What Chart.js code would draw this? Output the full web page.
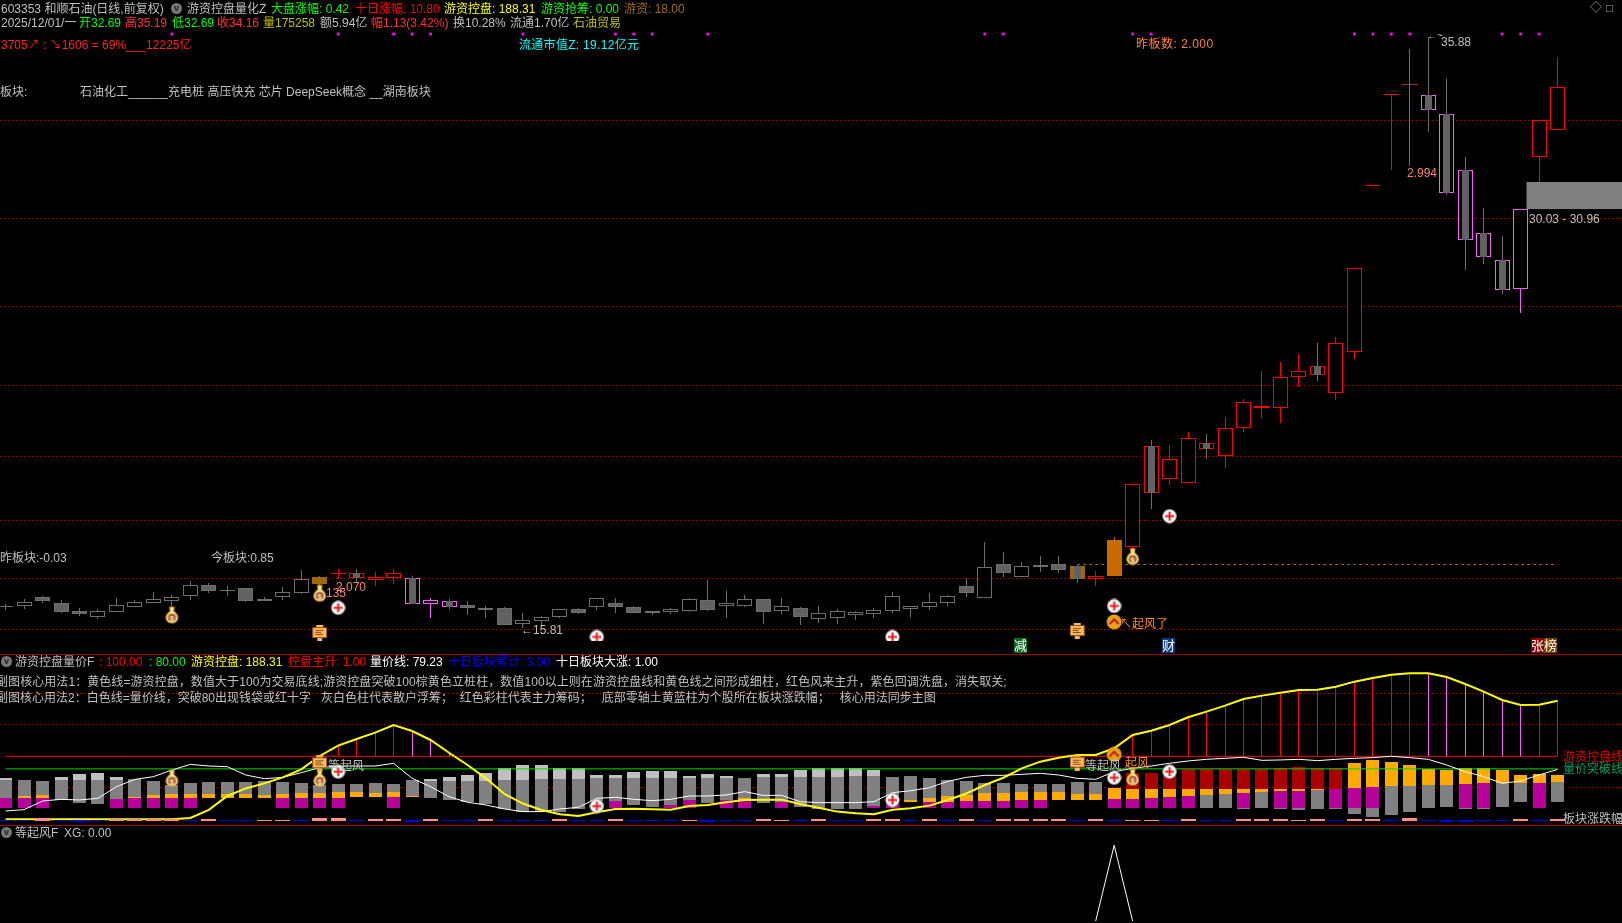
<!DOCTYPE html>
<html>
<head>
<meta charset="utf-8">
<title>603353 和顺石油</title>
<script src="https://cdn.jsdelivr.net/npm/chart.js@4"></script>
<style>
html, body { margin: 0; background: #000; overflow: hidden; }
#page { position: relative; width: 1622px; height: 923px; overflow: hidden; background: #000; }
canvas { position: absolute; left: 0; display: block; }
.t { position: absolute; white-space: pre; line-height: 14px; height: 14px; color: #c0c0c0;
     font-family: "Liberation Sans", "Noto Sans CJK SC", sans-serif; font-size: 12px; }
.sep { position: absolute; left: 0; width: 1622px; height: 1px; background: #a00000; }
.btn { position: absolute; width: 11px; height: 11px; border-radius: 50%; background: #777; color: #222;
       font: bold 9px/10px "Liberation Sans"; text-align: center; }
.tag { color: #fff; font-size: 13px; line-height: 15px; height: 15px; }
</style>
</head>
<body>
<div id="page">
  <canvas id="mainChart" width="1622" height="654" style="top:0"></canvas>
  <canvas id="subChart" width="1622" height="171" style="top:654px"></canvas>
  <canvas id="xgChart" width="1622" height="98" style="top:825px"></canvas>
  <div class="sep" style="top:654px"></div>
  <div class="sep" style="top:825px"></div>

  <!-- header lines -->
  <span class="t" style="left:1px;top:2px">603353 和顺石油(日线,前复权)</span>
  <span class="btn" style="left:171px;top:3px">v</span>
  <span class="t" style="left:187px;top:2px">游资控盘量化Z</span>
  <span class="t" style="left:271px;top:2px;color:#00ff00">大盘涨幅: 0.42</span>
  <span class="t" style="left:355px;top:2px;color:#ff0000">十日涨幅: 10.80</span>
  <span class="t" style="left:444px;top:2px;color:#ffff00">游资控盘: 188.31</span>
  <span class="t" style="left:541px;top:2px;color:#00ff00">游资抢筹: 0.00</span>
  <span class="t" style="left:624px;top:2px;color:#a06a10">游资: 18.00</span>
  <span class="t" style="left:1590px;top:1px;color:#999">◇</span>
  <span class="t" style="left:1606px;top:1px;color:#999">□</span>

  <span class="t" style="left:1px;top:16px">2025/12/01/一</span>
  <span class="t" style="left:79px;top:16px;color:#00ff00">开32.69</span>
  <span class="t" style="left:125px;top:16px;color:#ff3030">高35.19</span>
  <span class="t" style="left:172px;top:16px;color:#00ff00">低32.69</span>
  <span class="t" style="left:217px;top:16px;color:#ff3030">收34.16</span>
  <span class="t" style="left:263px;top:16px;color:#c0c000">量175258</span>
  <span class="t" style="left:320px;top:16px">额5.94亿</span>
  <span class="t" style="left:371px;top:16px;color:#ff3030">幅1.13(3.42%)</span>
  <span class="t" style="left:453px;top:16px">换10.28%</span>
  <span class="t" style="left:510px;top:16px">流通1.70亿</span>
  <span class="t" style="left:573px;top:16px;color:#c0c000">石油贸易</span>

  <span class="t" style="left:1px;top:38px;color:#ff2020">3705↗ : ↘1606 = 69%___12225亿</span>
  <span class="t" style="left:519px;top:38px;color:#00ffff;letter-spacing:0.3px">流通市值Z: 19.12亿元</span>
  <span class="t" style="left:1136px;top:37px;color:#ff8040;letter-spacing:0.5px">昨板数: 2.000</span>
  <span class="t" style="left:0;top:85px">板块:</span>
  <span class="t" style="left:80px;top:85px">石油化工______充电桩 高压快充 芯片 DeepSeek概念 __湖南板块</span>

  <!-- labels on the price pane -->
  <span class="t" style="left:0;top:551px">昨板块:-0.03</span>
  <span class="t" style="left:211px;top:551px">今板块:0.85</span>
  <span class="t" style="left:326px;top:586px;color:#ff8080">135</span>
  <span class="t" style="left:336px;top:580px;color:#ff8080">2.070</span>
  <span class="t" style="left:521px;top:623px">←15.81</span>
  <span class="t" style="left:1407px;top:166px;color:#ff8080">2.994</span>
  <span class="t" style="left:1427px;top:29px;font-size:10px">←~</span>
  <span class="t" style="left:1441px;top:35px">35.88</span>
  <span class="t" style="left:1529px;top:212px">30.03 - 30.96</span>
  <span class="t" style="left:1120px;top:617px;color:#ff8a20">↖起风了</span>
  <span class="t tag" style="left:1014px;top:638px;background:#0a6a20">减</span>
  <span class="t tag" style="left:1162px;top:638px;background:#0a3a80">财</span>
  <span class="t tag" style="left:1531px;top:638px;background:#8a0000">张</span>
  <span class="t tag" style="left:1544px;top:638px;background:#7a4400">榜</span>

  <!-- sub pane -->
  <span class="btn" style="left:1px;top:656px">v</span>
  <span class="t" style="left:15px;top:655px">游资控盘量价F</span>
  <span class="t" style="left:99px;top:655px;color:#ff0000">: 100.00</span>
  <span class="t" style="left:149px;top:655px;color:#00ff00">: 80.00</span>
  <span class="t" style="left:191px;top:655px;color:#ffff00">游资控盘: 188.31</span>
  <span class="t" style="left:288px;top:655px;color:#ff0000">控盘主升: 1.00</span>
  <span class="t" style="left:370px;top:655px;color:#fff">量价线: 79.23</span>
  <span class="t" style="left:448px;top:655px;color:#0000ff">十日板块累计: 3.00</span>
  <span class="t" style="left:556px;top:655px;color:#fff">十日板块大涨: 1.00</span>
  <span class="t" style="left:-4px;top:675px;letter-spacing:0.07px">副图核心用法1：黄色线=游资控盘，数值大于100为交易底线;游资控盘突破100棕黄色立桩柱，数值100以上则在游资控盘线和黄色线之间形成细柱，红色风来主升，紫色回调洗盘，消失取关;</span>
  <span class="t" style="left:-4px;top:691px">副图核心用法2：白色线=量价线，突破80出现钱袋或红十字   灰白色柱代表散户浮筹；  红色彩柱代表主力筹码；   底部零轴土黄蓝柱为个股所在板块涨跌幅；   核心用法同步主图</span>
  <span class="t" style="left:328px;top:759px">等起风</span>
  <span class="t" style="left:1085px;top:759px">等起风</span>
  <span class="t" style="left:1125px;top:756px;color:#ff8a20">起风</span>
  <span class="t" style="left:1563px;top:750px;color:#e00000">游资控盘线</span>
  <span class="t" style="left:1563px;top:762px;color:#00a060">量价突破线</span>
  <span class="t" style="left:1563px;top:812px">板块涨跌幅</span>

  <!-- XG pane -->
  <span class="btn" style="left:1px;top:827px">v</span>
  <span class="t" style="left:15px;top:826px">等起风F</span>
  <span class="t" style="left:64px;top:826px">XG: 0.00</span>
</div>

<script>
'use strict';

// Candles (index 0 is the oldest bar shown)
const opens = [16.53,16.55,16.85,16.65,16.38,16.19,16.36,16.53,16.66,16.73,16.90,17.26,17.07,17.16,16.79,16.87,17.00,17.30,17.64,17.66,17.44,17.51,17.49,16.63,16.71,16.58,16.48,16.48,15.95,16.05,16.19,16.45,16.53,16.65,16.52,16.38,16.36,16.39,16.75,16.56,16.56,16.79,16.39,16.48,16.12,16.15,16.25,16.29,16.39,16.46,16.53,16.66,17.23,16.83,17.98,17.55,17.94,17.98,17.91,17.47,17.57,18.56,21.97,20.87,20.73,22.07,21.65,22.60,23.27,23.28,24.33,24.69,23.79,25.18,30.81,33.90,34.29,33.89,33.24,31.34,29.20,28.29,27.30,31.78,32.70];
const closes = [16.55,16.67,16.72,16.35,16.28,16.37,16.57,16.67,16.79,16.84,17.25,17.06,17.09,16.72,16.72,17.01,17.45,17.53,17.66,17.50,17.52,17.66,16.63,16.74,16.53,16.48,16.41,15.92,16.06,16.16,16.44,16.31,16.81,16.52,16.31,16.31,16.44,16.78,16.41,16.64,16.78,16.35,16.54,16.18,16.30,16.37,16.33,16.40,16.88,16.54,16.67,16.88,16.99,17.86,17.67,17.90,17.87,17.77,17.47,17.56,18.79,20.68,20.39,21.53,22.24,21.89,22.61,23.46,23.34,24.31,24.52,24.40,25.47,28.01,30.86,33.93,34.24,33.40,30.58,28.99,28.41,27.27,30.02,33.04,34.16];
const highs = [16.62,16.79,16.89,16.75,16.48,16.45,16.82,16.75,17.02,16.93,17.40,17.32,17.22,17.16,16.85,17.18,17.77,17.58,17.81,17.81,17.70,17.81,17.57,16.82,16.79,16.72,16.55,16.52,16.31,16.21,16.44,16.47,16.81,16.82,16.55,16.38,16.48,16.82,17.43,17.06,16.92,16.79,16.82,16.52,16.55,16.45,16.38,16.48,17.02,16.54,16.99,16.92,17.49,18.72,18.38,18.04,18.25,18.25,17.94,17.74,18.89,20.68,22.18,22.01,22.46,22.39,22.96,23.58,24.53,24.83,25.10,25.48,25.68,28.01,30.86,33.93,35.46,35.88,34.44,31.79,30.06,29.11,30.02,33.04,35.19];
const lows = [16.41,16.45,16.66,16.31,16.21,16.11,16.36,16.53,16.66,16.55,16.75,17.00,16.89,16.69,16.72,16.75,16.96,17.09,17.45,17.34,17.24,17.31,16.63,16.15,16.45,16.24,16.15,15.90,15.81,15.90,16.14,16.28,16.41,16.31,16.31,16.24,16.28,16.35,16.38,16.14,16.52,15.94,16.28,15.90,15.97,15.94,16.07,16.14,16.31,16.18,16.41,16.55,16.85,16.83,17.53,17.55,17.70,17.67,17.33,17.23,17.57,18.45,19.85,20.66,20.73,21.55,21.24,22.47,22.90,22.77,23.99,24.19,23.54,24.94,30.81,31.36,31.50,32.65,30.51,27.97,28.17,27.15,26.51,30.90,32.70];

// Bars whose outline is not the plain grey
const redCandles = [18,19,20,21,59,61,62,63,64,65,66,67,68,69,70,71,72,73,74,75,76,83,84];
const magentaCandles = [22,23,24,77,78,79,80,81,82];
const brownCandles = [17,58];
const orangeCandles = [60];

// Price levels of the dotted guides and the grey zone on the right
const priceGuides = [33.04,29.71,26.73,24.04,21.63,19.46,17.49,15.75];
const zoneLow = 30.03;
const zoneHigh = 30.96;
const dashedLevel = 17.96;
const dashedFrom = 58;

// Magenta signal dots along the top of the price pane
const signalBars = [9,18,21,22,23,28,33,34,35,38,53,54,61,62,73,74,75,76,81,82,83];
const signalLevel = 35.97;

// Icons on the price pane: bar index and price level
const bagBarsMain = [9,17,61];
const bagLevelsMain = [16.24,16.98,18.23];
const plusBarsMain = [18,32,48,60,63];
const plusLevelsMain = [16.49,15.50,15.50,16.55,19.60];
const docBarsMain = [17,58];
const docLevelsMain = [15.63,15.70];
const riseBarsMain = [60];
const riseLevelsMain = [16.01];

// Sub pane lines
const hotMoney = [0,0,0,0,0,0,0,0,0,0,2,15,37,49,57,66.6,79.3,100.5,116.9,127.4,137.5,149.7,140.1,125.9,105.7,86.2,65,40.2,25,14.8,7.9,5.3,11.1,16.4,16.9,15.9,15.3,21.1,22.7,27,30.7,31.2,31.2,24.3,18.5,12.2,9.5,7.9,15.3,17.4,21.7,30.7,41,54.4,66,80.9,91.5,97.8,102,102,112.7,133.8,140.7,149.7,161.9,170.9,180.4,191,196.3,201,205.2,205.8,210.5,218.5,224.3,229.6,231.7,231.7,225.9,214.8,202.6,189.4,181.4,182,188.3];
const volumePrice = [13.2,15.3,29,31.7,30.7,33.3,51.8,63.4,67.7,78.2,87.2,84.6,83.5,70.3,64.5,66.6,74,82,84.6,84.6,84.6,88.8,65,51.8,35.9,27,22.7,16.4,12.2,12.2,16.4,19,33.3,34.9,31.7,29.6,31.7,37,37,38.6,43.9,38,38,28,26.4,26.4,26.4,28,42.3,45.4,50.2,60.3,66.6,69.8,69.8,71.4,73,70.3,65,63.5,75.6,80.9,84.6,88.9,92.6,95.2,96.8,98.4,93.6,94.2,95.2,93.1,95.2,96.8,97.9,100,97.9,95.2,86.2,75.6,67.7,57.1,60.8,70.4,79.2];
const baseLine = 100;
const breakLine = 80;
const subGuides = [50,150,200];

// Sub pane columns: edges of each coloured segment, null where the bar has none
const purpleBase = 17.9;
const lightTops = [65.5,null,null,67.1,71.9,73.5,67.1,null,null,null,null,null,null,null,null,null,null,null,null,null,null,null,null,64,67.1,70.3,73.5,81.4,86.2,86.2,81.4,81.4,70.3,70.3,75.1,76.7,76.7,68.7,71.9,68.7,null,71.9,71.9,78.2,81.4,81.4,81.4,78.2,null,null,null,null,null,null,null,null,null,null,null,null,null,null,null,null,null,null,null,null,null,null,null,null,null,null,null,null,null,null,null,null,null,null,null,null,null];
const greyTops = [62.4,62.4,60.8,62.4,62.4,62.4,62.4,64,60.8,54.4,57.6,59.2,59.2,59.2,60.8,59.2,57.6,54.4,56,56,57.6,56,62.4,60.8,60.8,60.8,60.8,62.4,62.4,64,64,64,65.5,65.5,65.5,65.5,65.5,65.5,65.5,65.5,65.5,67.1,67.1,67.1,67.1,67.1,68.7,68.7,67.1,68.7,65.5,62.4,60.8,57.6,57.6,56,56,56,59.2,59.2,null,null,null,null,null,38.6,40.2,17.9,43.3,17.9,17.9,46.5,17.9,17.9,17.9,52.8,52.8,54.4,54.4,17.9,17.9,57.6,57.6,null,59.2];
const greyBottoms = [33.8,36.9,38.6,30.6,25.9,24.3,32.2,35.4,38.6,40.2,40.2,40.2,40.2,40.2,38.6,40.2,41.7,41.7,43.3,43.3,41.7,43.3,36.9,33.8,30.6,27.5,24.3,16.4,11.6,11.6,11.6,16.4,29,29,22.7,19.5,22.7,30.6,25.9,30.6,33.8,25.9,27.5,19.5,16.4,16.4,16.4,21.1,25.9,30.6,33.8,36.9,38.6,41.7,41.7,43.3,43.3,43.3,40.2,40.2,null,null,null,null,null,17.9,17.9,16.4,17.9,16.4,14.8,16.4,16.4,8.4,3.6,6.8,11.6,17.9,19.5,16.4,16.4,19.5,27.5,null,27.5];
const orangeTops = [null,36.9,38.6,null,null,null,null,35.4,38.6,40.2,40.2,40.2,40.2,40.2,38.6,40.2,41.7,41.7,43.3,43.3,41.7,43.3,36.9,null,null,null,null,null,null,null,null,null,null,null,null,null,null,null,null,null,33.8,null,null,null,null,null,null,null,null,30.6,33.8,36.9,38.6,41.7,41.7,43.3,43.3,43.3,40.2,40.2,48.9,48.1,48.1,48.1,48.1,48.1,48.1,48.1,48.1,48.1,48.1,48.1,null,89.3,94.1,90.9,86.2,79.8,78.2,81.4,81.4,78.2,70.3,71.9,70.3];
const orangeBottoms = [null,33.8,33.8,null,null,null,null,33.8,33.8,33.8,33.8,33.8,33.8,33.8,33.8,33.8,33.8,33.8,33.8,35.4,35.4,35.4,35.4,null,null,null,null,null,null,null,null,null,null,null,null,null,null,null,null,null,29,null,null,null,null,null,null,null,null,27.5,27.5,27.5,29,29,29,30.6,30.6,30.6,30.6,30.6,32.2,32.2,33.8,35.4,36.9,38.6,40.2,41.7,43.3,44.9,44.9,46.5,null,49.7,51.3,52.8,52.8,54.4,54.4,56,57.6,57.6,57.6,57.6,59.2];
const purpleTops = [33.8,33.8,33.8,null,null,null,32.2,33.8,33.8,33.8,33.8,null,null,null,null,33.8,33.8,33.8,33.8,null,null,35.4,null,null,null,null,null,null,null,null,null,null,null,29,null,null,22.7,30.6,null,30.6,29,null,27.5,null,null,null,null,21.1,25.9,null,27.5,27.5,29,29,29,30.6,30.6,null,null,null,32.2,32.2,33.8,35.4,36.9,null,null,41.7,null,44.9,44.9,null,48.1,49.7,51.3,null,null,null,null,56,57.6,null,null,57.6,null];
const redTops = [null,null,null,null,null,null,null,null,null,null,null,null,null,null,null,null,null,null,null,null,null,null,null,null,null,null,null,null,null,null,null,null,null,null,null,null,null,null,null,null,null,null,null,null,null,null,null,null,null,null,null,null,null,null,null,null,null,null,null,null,null,73.5,73.5,70.3,79.8,79.8,79.8,79.8,79.8,81.4,83,81.4,81.4,null,null,null,null,null,null,null,null,null,null,null,null];

// Sector change drawn along the zero axis of the sub pane
const sectorChange = [-1.6,-1.6,4.8,-1.6,-3.2,-1.6,3.2,3.2,3.2,3.2,-1.6,3.2,-1.6,-1.6,1.6,1.6,-1.6,4.8,4.8,-1.6,3.2,3.2,-3.2,3.2,-1.6,-1.6,3.2,-1.6,-1.6,-1.6,3.2,-1.6,-1.6,3.2,-1.6,-1.6,-1.6,1.6,-3.2,-1.6,-1.6,3.2,1.6,-1.6,3.2,-1.6,-1.6,3.2,3.2,-1.6,3.2,-1.6,3.2,-1.6,3.2,3.2,3.2,3.2,-1.6,3.2,-1.6,1.6,1.6,-1.6,3.2,-1.6,-1.6,3.2,3.2,3.2,1.6,3.2,-1.6,3.2,3.2,-1.6,4.8,-1.6,-3.2,-3.2,-1.6,-1.6,3.2,-1.6,3.2];
const sectorZero = -2.7;

// Icons on the sub pane
const bagBarsSub = [9,17,61];
const bagLevelsSub = [65,65,66.7];
const plusBarsSub = [18,32,48,60,63];
const plusLevelsSub = [75.6,21,30.6,66,75.6];
const docBarsSub = [17,58];
const docLevelsSub = [88.9,89.8];
const riseBarsSub = [60];
const riseLevelsSub = [103];

// Bottom pane: the signal only fires on one bar
const xgBars = [59,60,61];
const xgValues = [0,1,0];

const GREY = '#6e6e6e';
const GREY_FILL = '#626262';
const RED = '#ff0000';
const MAGENTA = '#ff5cff';
const BROWN = '#a06800';
const ORANGE = '#c96a00';
const GUIDE = '#b00000';

Chart.defaults.animation = false;
Chart.defaults.events = [];
Chart.defaults.plugins.legend.display = false;
Chart.defaults.plugins.tooltip.enabled = false;
Chart.defaults.devicePixelRatio = 1;

// x axis is shared by all panes: bar 0 sits at x=5.6, one bar is 18.476px
const X_MIN = -0.303;
const X_MAX = 87.486;

// Snap bars to whole pixels, the original has no anti-aliasing
const snapBars = {
    id: 'snapBars',
    afterDatasetsUpdate(chart) {
        chart.data.datasets.forEach((ds, n) => {
            const meta = chart.getDatasetMeta(n);
            if (meta.type !== 'bar') return;
            meta.data.forEach(bar => {
                bar.x = Math.floor(bar.x) + 0.5;
                bar.y = Math.round(bar.y);
                bar.base = Math.round(bar.base);
                if (bar.y === bar.base) bar.y -= 1;
            });
        });
    }
};

function candleColor(i) {
    if (redCandles.includes(i)) return RED;
    if (magentaCandles.includes(i)) return MAGENTA;
    if (brownCandles.includes(i)) return BROWN;
    if (orangeCandles.includes(i)) return ORANGE;
    return GREY;
}

function isDown(i) {
    return closes[i] < opens[i];
}

function wickColor(i) {
    const special = candleColor(i) !== GREY;
    return special && isDown(i) ? GREY : candleColor(i);
}

function bodyFill(i) {
    if (brownCandles.includes(i)) return BROWN;
    if (orangeCandles.includes(i)) return ORANGE;
    if (candleColor(i) === GREY && isDown(i)) return GREY_FILL;
    return '#000';
}

// Floating bar points from two edge lists, skipping bars without that segment
function segment(tops, bottoms) {
    const points = [];
    tops.forEach((top, i) => {
        const bottom = Array.isArray(bottoms) ? bottoms[i] : bottoms;
        if (top === null || bottom === null) return;
        points.push({ x: i, y: [bottom, top] });
    });
    return points;
}

function barSet(data, color, width, order, extra) {
    return Object.assign({
        type: 'bar', data, backgroundColor: color, barThickness: width,
        stack: 'all', grouped: false, inflateAmount: 0, borderWidth: 0, order
    }, extra);
}

function iconSet(bars, levels, icon, order, extra) {
    return Object.assign({
        type: 'scatter',
        data: bars.map((b, i) => ({ x: b, y: levels[i] })),
        pointStyle: icon, order
    }, extra);
}

function makeCanvas(w, h, draw) {
    const c = document.createElement('canvas');
    c.width = w;
    c.height = h;
    draw(c.getContext('2d'));
    return c;
}

const plusIcon = makeCanvas(15, 15, ctx => {
    ctx.fillStyle = '#fff';
    ctx.strokeStyle = '#999';
    ctx.beginPath();
    ctx.arc(7.5, 7.5, 6.8, 0, Math.PI * 2);
    ctx.fill();
    ctx.stroke();
    ctx.fillStyle = '#f01818';
    ctx.fillRect(3, 6.5, 9, 2);
    ctx.fillRect(6.5, 3, 2, 9);
});

const bagIcon = makeCanvas(15, 18, ctx => {
    ctx.fillStyle = '#ffe888';
    ctx.strokeStyle = '#d09a20';
    ctx.beginPath();
    ctx.moveTo(5, 1);
    ctx.lineTo(10, 1);
    ctx.lineTo(9, 5);
    ctx.bezierCurveTo(15, 8, 15, 17, 7.5, 17);
    ctx.bezierCurveTo(0, 17, 0, 8, 6, 5);
    ctx.closePath();
    ctx.fill();
    ctx.stroke();
    ctx.fillStyle = '#a85c38';
    ctx.beginPath();
    ctx.arc(7.5, 11.5, 4, 0, Math.PI * 2);
    ctx.fill();
    ctx.fillStyle = '#ffe0b0';
    ctx.font = 'bold 8px "Liberation Sans"';
    ctx.textAlign = 'center';
    ctx.fillText('$', 7.5, 14.5);
});

const docIcon = makeCanvas(15, 16, ctx => {
    ctx.fillStyle = '#ffb860';
    ctx.fillRect(0, 2, 15, 11);
    ctx.fillRect(4, 0, 7, 2);
    ctx.fillRect(5, 13, 5, 3);
    ctx.strokeStyle = '#8a5010';
    ctx.strokeRect(0.5, 2.5, 14, 10);
    ctx.fillStyle = '#8a5010';
    ctx.fillRect(3, 5, 8, 1);
    ctx.fillRect(3, 7, 6, 1);
    ctx.fillRect(3, 9, 8, 1);
});

const riseIcon = makeCanvas(16, 16, ctx => {
    ctx.fillStyle = '#e8a020';
    ctx.beginPath();
    ctx.arc(8, 8, 7.5, 0, Math.PI * 2);
    ctx.fill();
    ctx.strokeStyle = '#c02000';
    ctx.lineWidth = 2;
    ctx.beginPath();
    ctx.moveTo(3.5, 10);
    ctx.lineTo(8, 5.5);
    ctx.lineTo(12.5, 10);
    ctx.stroke();
});

function paneOptions(yMin, yMax, guides) {
    return {
        responsive: false,
        maintainAspectRatio: false,
        animation: false,
        layout: { padding: 0, autoPadding: false },
        scales: {
            x: { type: 'linear', min: X_MIN, max: X_MAX, offset: false, display: false, grid: { offset: false } },
            y: {
                min: yMin, max: yMax, stacked: false,
                afterBuildTicks: axis => { axis.ticks = guides.map(value => ({ value })); },
                ticks: { display: false },
                grid: { color: GUIDE, drawTicks: false, lineWidth: 1 },
                border: { display: false, dash: [1, 3] }
            }
        }
    };
}

const allBars = opens.map((_, i) => i);
const downColored = allBars.filter(i => isDown(i) && candleColor(i) !== GREY);

// Price pane
new Chart(document.getElementById('mainChart'), {
    type: 'bar',
    data: {
        datasets: [
            iconSet(plusBarsMain, plusLevelsMain, plusIcon, 1, { clip: { left: 0, top: 0, right: 0, bottom: -13 } }),
            iconSet(bagBarsMain, bagLevelsMain, bagIcon, 1),
            iconSet(docBarsMain, docLevelsMain, docIcon, 1),
            iconSet(riseBarsMain, riseLevelsMain, riseIcon, 1),
            barSet([{ x: 84.9, y: [zoneLow, zoneHigh] }], '#808080', 96, 2),
            barSet(downColored.map(i => ({ x: i, y: [closes[i], opens[i]] })), GREY_FILL, 7, 3),
            barSet(allBars.map(i => ({ x: i, y: [Math.min(opens[i], closes[i]), Math.max(opens[i], closes[i])] })),
                allBars.map(bodyFill), 15, 4,
                { borderColor: allBars.map(candleColor), borderWidth: 1, borderSkipped: false }),
            barSet(allBars.map(i => ({ x: i, y: [lows[i], highs[i]] })), allBars.map(wickColor), 1, 5),
            {
                type: 'line',
                data: allBars.filter(i => i >= dashedFrom).map(i => ({ x: i, y: dashedLevel })),
                borderColor: '#b06a10', borderWidth: 1, borderDash: [3, 3], pointRadius: 0, order: 6
            },
            {
                type: 'scatter',
                data: signalBars.map(b => ({ x: b, y: signalLevel })),
                pointStyle: 'rect', pointRadius: 2, backgroundColor: '#ff00ff', borderWidth: 0, order: 1
            }
        ]
    },
    options: paneOptions(14.92, 37.126, priceGuides),
    plugins: [snapBars]
});

// Sub pane
const thinColumns = allBars.filter(i => hotMoney[i] > baseLine && candleColor(i) !== GREY && candleColor(i) !== BROWN && candleColor(i) !== ORANGE);

new Chart(document.getElementById('subChart'), {
    type: 'bar',
    data: {
        datasets: [
            iconSet(plusBarsSub, plusLevelsSub, plusIcon, 1),
            iconSet(bagBarsSub, bagLevelsSub, bagIcon, 1),
            iconSet(docBarsSub, docLevelsSub, docIcon, 1),
            iconSet(riseBarsSub, riseLevelsSub, riseIcon, 1),
            // sector marks sit over the yellow line where it runs along the zero axis
            barSet(allBars.map(i => ({
                x: i,
                y: sectorChange[i] > 0 ? [sectorZero, sectorZero + sectorChange[i]] : [sectorZero + 1.6 + sectorChange[i], sectorZero + 1.6]
            })), allBars.map(i => sectorChange[i] > 0 ? '#ff8c8c' : '#0000f0'), 15, 1.5),
            {
                type: 'line', data: allBars.map(i => ({ x: i, y: hotMoney[i] })),
                borderColor: '#ffff00', borderWidth: 2, pointRadius: 0, order: 2
            },
            {
                type: 'line', data: allBars.map(i => ({ x: i, y: volumePrice[i] })),
                borderColor: '#ffffff', borderWidth: 1, pointRadius: 0, order: 3
            },
            barSet(thinColumns.map(i => ({ x: i, y: [baseLine, hotMoney[i]] })), thinColumns.map(candleColor), 1, 4),
            {
                type: 'line', data: [{ x: 0, y: baseLine }, { x: 84, y: baseLine }],
                borderColor: '#ff0000', borderWidth: 1, pointRadius: 0, order: 4
            },
            {
                type: 'line', data: [{ x: 0, y: breakLine }, { x: 84, y: breakLine }],
                borderColor: '#00e000', borderWidth: 1, pointRadius: 0, order: 5
            },
            barSet(segment(redTops, orangeTops.map((o, i) => o === null ? purpleTops[i] : o)), '#aa0000', 13, 7),
            barSet(segment(orangeTops, orangeBottoms), '#ffaa00', 13, 7),
            barSet(segment(purpleTops, purpleBase), '#b8009c', 13, 7),
            barSet(segment(greyTops, greyBottoms), '#808080', 13, 8),
            barSet(segment(lightTops, greyTops), '#c0c0c0', 13, 8)
        ]
    },
    options: paneOptions(-9.05, 262.4, subGuides),
    plugins: [snapBars]
});

// XG pane
new Chart(document.getElementById('xgChart'), {
    type: 'line',
    data: {
        datasets: [{
            data: xgBars.map((b, i) => ({ x: b, y: xgValues[i] })),
            borderColor: '#ffffff', borderWidth: 1, pointRadius: 0
        }]
    },
    options: paneOptions(-0.0253, 1.266, [])
});
</script>
</body>
</html>
